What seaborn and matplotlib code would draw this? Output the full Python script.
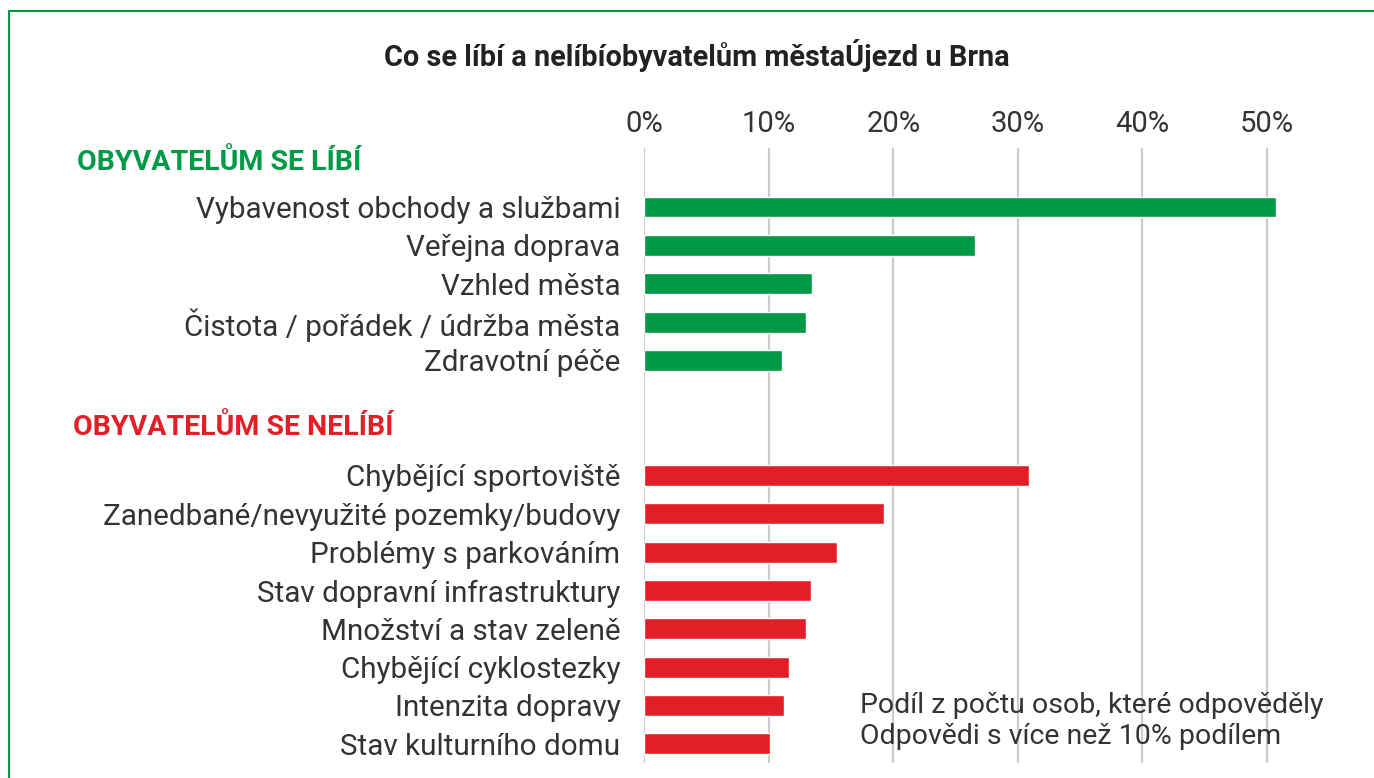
import pandas as pd
import numpy as np
import matplotlib.pyplot as plt
import seaborn as sns
from matplotlib.patches import Rectangle

# data (share of respondents, %)
likes = ['Vybavenost obchody a službami', 'Veřejna doprava', 'Vzhled města',
         'Čistota / pořádek / údržba města', 'Zdravotní péče']
likes_val = [50.7, 26.6, 13.5, 13.0, 11.1]

dislikes = ['Chybějící sportoviště', 'Zanedbané/nevyužité pozemky/budovy',
            'Problémy s parkováním', 'Stav dopravní infrastruktury',
            'Množství a stav zeleně', 'Chybějící cyklostezky',
            'Intenzita dopravy', 'Stav kulturního domu']
dislikes_val = [30.9, 19.3, 15.5, 13.4, 13.0, 11.6, 11.2, 10.1]

ticks = [0, 10, 20, 30, 40, 50]
tick_labels = ['0%', '10%', '20%', '30%', '40%', '50%']

GREEN = '#009a47'
RED = '#e31e26'

df = pd.DataFrame({
    'label': likes + dislikes,
    'value': likes_val + dislikes_val,
    'group': ['like'] * len(likes) + ['dislike'] * len(dislikes),
})
# two empty slots between the groups
order = likes + [' ', '  '] + dislikes

sns.set_style('white')
plt.rcParams['font.family'] = ['Roboto', 'DejaVu Sans']

fig = plt.figure(figsize=(13.74, 7.78), dpi=100)
W, H = 1374, 778
# axes placed so that 0% -> x=644, 50% -> x=1267
x_max = 54
left = 644 / W
width = (1267 - 644) / 50 * x_max / W
top = 148 / H
bottom = 763 / H
ax = fig.add_axes([left, 1 - bottom, width, bottom - top])

sns.barplot(data=df, x='value', y='label', order=order, hue='group',
            palette={'like': GREEN, 'dislike': RED}, dodge=False,
            width=0.545, legend=False, ax=ax, saturation=1)

ax.set_xlim(0, x_max)
ax.set_ylim(len(order) - 0.5, -1.54)
ax.set_xticks(ticks)
ax.set_xticklabels(tick_labels)
ax.xaxis.tick_top()
ax.tick_params(axis='x', length=0, pad=7, labelsize=21, colors='#333333')
ax.tick_params(axis='y', length=0, pad=17, labelsize=21.3, colors='#333333')
ax.set_xlabel('')
ax.set_ylabel('')
ax.grid(axis='x', color='#cccccc', linewidth=1.6)
ax.set_axisbelow(True)
for s in ax.spines.values():
    s.set_visible(False)

fig.text(697 / W, 1 - 55 / H, 'Co se líbí a nelíbíobyvatelům městaÚjezd u Brna',
         ha='center', va='center', fontsize=20.8, fontweight='bold', color='#222222')
fig.text(77 / W, 1 - 162 / H, 'OBYVATELŮM SE LÍBÍ', ha='left', va='center',
         fontsize=20.5, fontweight='bold', color=GREEN)
fig.text(73 / W, 1 - 427 / H, 'OBYVATELŮM SE NELÍBÍ', ha='left', va='center',
         fontsize=20.5, fontweight='bold', color=RED)
fig.text(860 / W, 1 - 721 / H,
         'Podíl z počtu osob, které odpověděly\nOdpovědi s více než 10% podílem',
         ha='left', va='center', fontsize=20.5, color='#333333', linespacing=1.22)

# green frame round the chart
fig.patches.append(Rectangle((9 / W, -0.1), 1.2, 1.1 - 11 / H, transform=fig.transFigure,
                             fill=False, edgecolor=GREEN, linewidth=1.5))

fig.savefig('out.png', dpi=100)
